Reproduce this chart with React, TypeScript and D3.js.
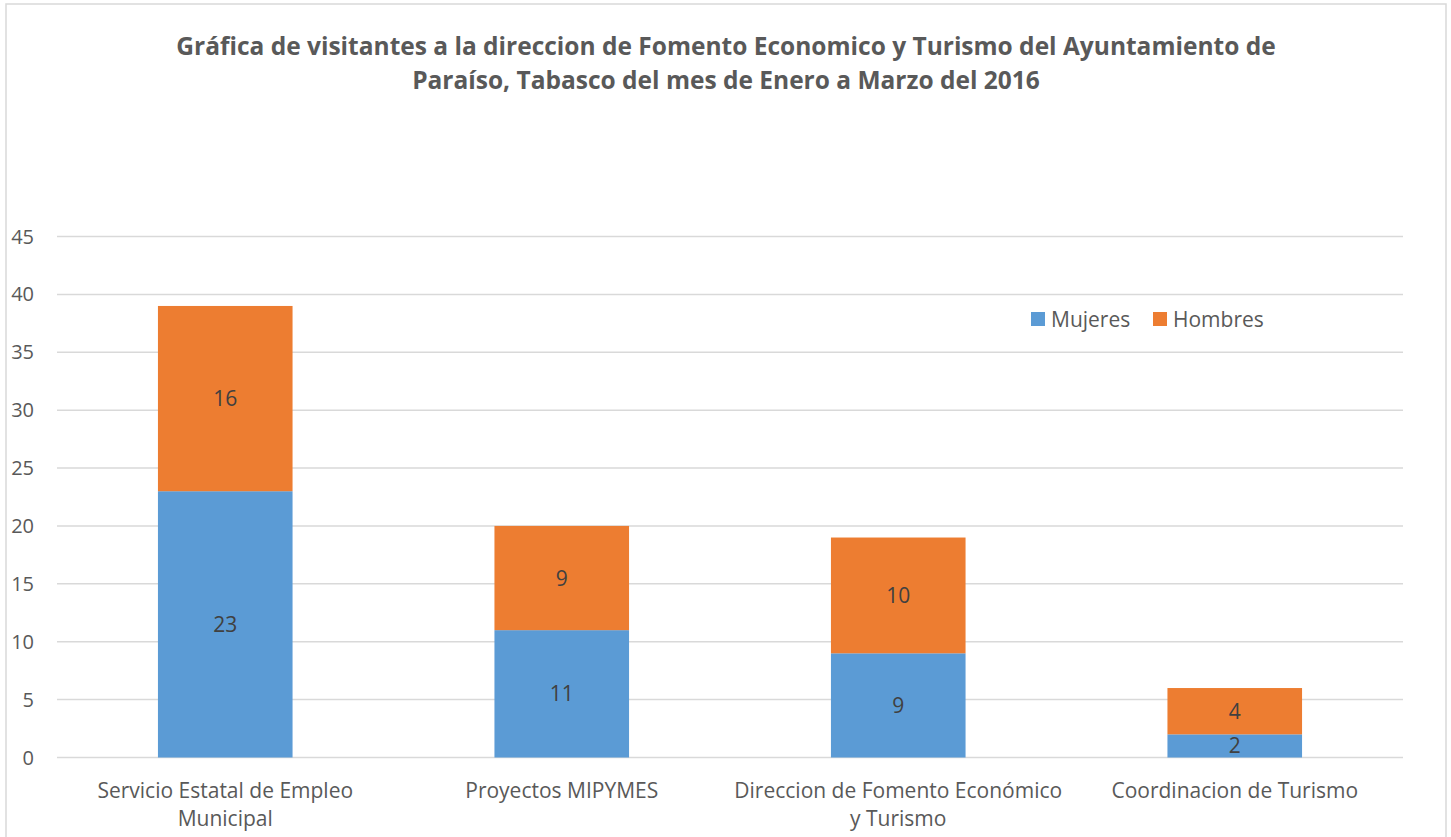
import React from 'react';
import * as d3 from 'd3';

const categories = [
  ['Servicio Estatal de Empleo', 'Municipal'],
  ['Proyectos MIPYMES'],
  ['Direccion de Fomento Económico', 'y Turismo'],
  ['Coordinacion de Turismo'],
];
const mujeres = [23, 11, 9, 2];
const hombres = [16, 9, 10, 4];
const seriesNames = ['Mujeres', 'Hombres'];
const seriesColors = ['#5B9BD5', '#ED7D31'];
const yTicks = [0, 5, 10, 15, 20, 25, 30, 35, 40, 45];
const titleLines = [
  'Gráfica de visitantes a la direccion de Fomento Economico y Turismo del Ayuntamiento de',
  'Paraíso, Tabasco del mes de Enero a Marzo del 2016',
];

const W = 1451;
const H = 837;
const FONT = '"Open Sans", "Noto Sans", sans-serif';

const App: React.FC = () => {
  const x = d3
    .scaleBand<number>()
    .domain(d3.range(categories.length))
    .range([57, 1403])
    .paddingInner(0.6)
    .paddingOuter(0.3);
  const y = d3.scaleLinear().domain([0, 45]).range([757.5, 236.5]);

  const rows = categories.map((_, i) => ({ i, Mujeres: mujeres[i], Hombres: hombres[i] }));
  const stacked = d3.stack<any>().keys(seriesNames)(rows);

  return (
    <svg
      width={W}
      height={H}
      style={{ position: 'absolute', left: 0, top: 0, background: '#fff' }}
      fontFamily={FONT}
    >
      <rect x={6} y={4} width={1440} height={H + 10} fill='#fff' stroke='#d9d9d9' strokeWidth={1.5} />

      {/* Title */}
      {titleLines.map((t, i) => (
        <text
          key={i}
          x={726}
          y={55 + i * 34}
          textAnchor='middle'
          fontSize={24.5}
          fontWeight='bold'
          fill='#595959'
        >
          {t}
        </text>
      ))}

      {/* Gridlines and y labels */}
      {yTicks.map((t) => (
        <g key={t}>
          <line x1={57} x2={1403} y1={y(t)} y2={y(t)} stroke='#d9d9d9' strokeWidth={1.5} />
          <text x={34} y={y(t)} dy='0.35em' textAnchor='end' fontSize={20} fill='#595959'>
            {t}
          </text>
        </g>
      ))}

      {/* Bars */}
      {stacked.map((s, si) => (
        <g key={s.key} fill={seriesColors[si]}>
          {s.map((d, i) => {
            const y0 = y(d[0]);
            const y1 = y(d[1]);
            return (
              <g key={i}>
                <rect x={x(i)} y={y1} width={x.bandwidth()} height={y0 - y1} />
                <text
                  x={(x(i) ?? 0) + x.bandwidth() / 2}
                  y={(y0 + y1) / 2}
                  dy='0.36em'
                  textAnchor='middle'
                  fontSize={21}
                  fill='#404040'
                >
                  {d[1] - d[0]}
                </text>
              </g>
            );
          })}
        </g>
      ))}

      {/* X labels */}
      {categories.map((lines, i) => (
        <text key={i} textAnchor='middle' fontSize={21} fill='#595959'>
          {lines.map((l, j) => (
            <tspan key={j} x={(x(i) ?? 0) + x.bandwidth() / 2} y={798 + j * 28}>
              {l}
            </tspan>
          ))}
        </text>
      ))}

      {/* Legend */}
      {seriesNames.map((n, i) => {
        const lx = 1031 + i * 122;
        return (
          <g key={n}>
            <rect x={lx} y={312} width={14} height={14} fill={seriesColors[i]} />
            <text x={lx + 20} y={319} dy='0.36em' fontSize={21} fill='#595959'>
              {n}
            </text>
          </g>
        );
      })}
    </svg>
  );
};

export default App;
